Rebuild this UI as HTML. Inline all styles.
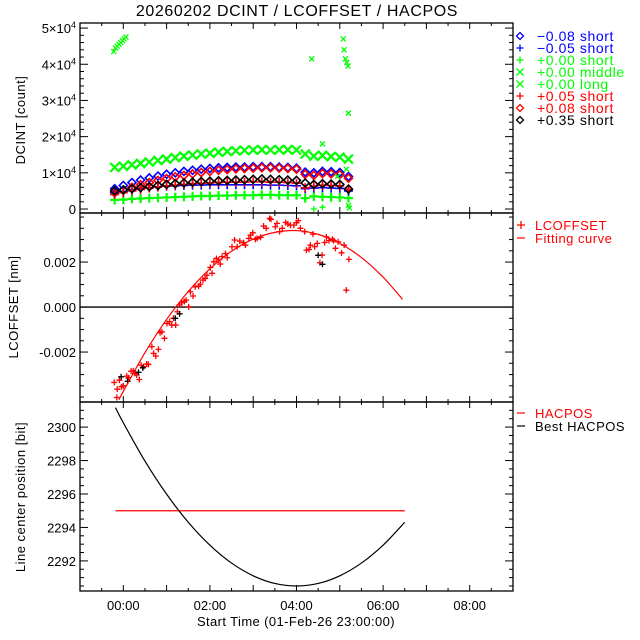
<!DOCTYPE html>
<html><head><meta charset="utf-8"><style>
html,body{margin:0;padding:0;background:#fff;}
svg{display:block;font-family:"Liberation Sans",sans-serif;}
</style></head><body>
<svg id="chart" width="640" height="640" viewBox="0 0 640 640" xmlns="http://www.w3.org/2000/svg">
<rect width="640" height="640" fill="#fff"/>
<text x="297" y="16" font-size="16" letter-spacing="0.6" text-anchor="middle">20260202 DCINT / LCOFFSET / HACPOS</text>
<g id="g"></g>
</svg>
<script>
// ---- data: top panel (DCINT) ----
const topTimes = [-0.2,0,0.2,0.4,0.6,0.8,1.0,1.2,1.4,1.6,1.8,2.0,2.2,2.4,2.6,2.8,3.0,3.2,3.4,3.6,3.8,4.0,4.2,4.4,4.6,4.8,5.0,5.2];
const greenLong = [11500,11800,12200,12600,13000,13400,13800,14200,14600,14900,15200,15400,15700,15900,16100,16200,16300,16400,16300,16400,16400,16300,15200,14600,14800,14500,14300,13800];
const greenShort = [2500,2600,2800,2900,3000,3100,3200,3300,3400,3500,3600,3600,3700,3700,3800,3800,3800,3900,3900,3800,3800,3800,3000,3500,3400,3300,3200,3000];
const blueDiamond = [5600,6500,7300,8000,8600,9100,9600,10000,10400,10700,11000,11200,11400,11500,11600,11600,11700,11700,11700,11600,11500,11300,10200,10000,10400,10300,10100,9000];
const redDiamond = [4500,5200,6000,6700,7300,7900,8400,8900,9300,9700,10100,10400,10700,10900,11100,11200,11300,11400,11400,11300,11200,11000,9600,9300,9800,9700,9500,8500];
const blackDiamond = [5000,5300,5600,5900,6200,6500,6800,7000,7200,7400,7600,7700,7800,7900,8000,8100,8200,8300,8200,8100,8000,7900,7200,6800,7000,6900,6800,5500];
const bluePlus = [4500,4900,5300,5600,5900,6100,6300,6400,6500,6600,6600,6700,6700,6700,6700,6700,6700,6700,6600,6600,6500,6400,5600,5800,5900,5800,5700,5000];
const redPlus = [4000,4500,5000,5400,5800,6100,6400,6600,6800,7000,7100,7200,7300,7400,7400,7400,7500,7500,7400,7400,7300,7100,5900,6300,6600,6500,6400,5500];
const greenMidTimes = [-0.22,-0.18,-0.14,-0.1,-0.06,-0.02,0.02,0.06,4.35,5.08,5.1,5.13,5.16,5.19,5.2,4.6,4.95,5.15,5.2,5.22];
const greenMidVals = [43500,44500,45000,45500,46000,46500,47000,47500,41500,47000,44000,41500,40500,39500,26500,18000,9000,11000,1000,300];
const greenShortOutT = [4.4,4.6];
const greenShortOutV = [0,500];
const topTicks = [0,10000,20000,30000,40000,50000];
const topTickMant = ["0","1","2","3","4","5"];
// ---- data: middle panel (LCOFFSET) ----
const offT = [-0.21,-0.09,-0.15,-0.14,-0.04,0.00,0.08,0.12,0.18,0.23,0.27,0.31,0.37,0.41,0.47,0.54,0.58,0.66,0.70,0.75,0.81,0.85,0.89,0.95,1.01,1.07,1.12,1.16,1.21,1.25,1.30,1.35,1.41,1.45,1.51,1.55,1.61,1.66,1.74,1.78,1.84,1.89,1.93,2.01,2.05,2.09,2.15,2.20,2.24,2.28,2.36,2.40,2.51,2.57,2.63,2.69,2.78,2.82,2.90,2.94,2.99,3.05,3.09,3.17,3.24,3.30,3.38,3.41,3.51,3.55,3.61,3.67,3.75,3.80,3.86,3.94,4.00,4.04,4.09,4.19,4.23,4.29,4.32,4.38,4.42,4.48,4.54,4.59,4.65,4.69,4.75,4.83,4.86,4.90,4.96,5.04,5.10,5.15,5.21];
const offV = [-3.35,-3.25,-4.02,-3.65,-3.54,-3.50,-3.07,-3.14,-2.85,-2.83,-2.95,-3.02,-3.22,-2.58,-2.65,-2.53,-2.55,-1.76,-2.06,-2.18,-1.88,-1.14,-1.10,-1.39,-0.73,-0.65,-0.80,-0.50,-0.80,-0.21,0.09,0.19,0.24,0.31,0.01,0.68,0.49,0.90,0.93,1.02,1.20,1.27,1.42,1.76,1.50,2.01,2.16,2.09,1.91,2.24,2.38,2.19,2.68,2.98,2.68,2.93,2.86,2.75,3.05,3.20,3.30,3.01,3.05,3.10,3.60,3.50,3.94,3.90,3.57,3.72,3.35,3.50,3.76,3.69,3.64,3.64,3.75,3.84,3.50,3.35,2.53,2.56,2.75,3.24,2.68,2.83,1.97,2.31,2.87,3.12,2.95,3.01,2.95,2.61,2.90,2.41,2.75,0.75,2.12];
const offBlackT = [-0.05,0.1,0.35,0.45,1.2,1.3,4.5,4.6];
const offBlackV = [-3.1,-3.3,-2.9,-2.7,-0.5,-0.3,2.3,1.9];
const fitT = [-0.1,0,0.5,1,1.5,2,2.5,3,3.5,4,4.5,5,5.5,6,6.45];
const fitV = [-4.12,-3.75,-2.03,-0.55,0.69,1.70,2.48,3.02,3.32,3.40,3.23,2.83,2.20,1.33,0.34];
const midTicks = [-0.002,0,0.002];
const midTickLabels = ["-0.002","0.000","0.002"];
// ---- data: bottom panel (HACPOS) ----
const bestT = [-0.18,0,0.5,1,1.5,2,2.5,3,3.5,4,4.5,5,5.5,6,6.5];
const bestV = [2301.16,2300.26,2297.97,2295.99,2294.31,2292.94,2291.87,2291.11,2290.65,2290.5,2290.65,2291.11,2291.87,2292.94,2294.31];
const hacT = [-0.18,6.5];
const hacV = [2295,2295];
const botTicks = [2292,2294,2296,2298,2300];
const xTicks = [0,2,4,6,8];
const xTickLabels = ["00:00","02:00","04:00","06:00","08:00"];

const NS="http://www.w3.org/2000/svg";
const G=document.getElementById('g');
const L=80,R=513;
const tMin=-1,tMax=9;
function X(t){return L+(t-tMin)/(tMax-tMin)*(R-L);}
function mk(tag,attrs,parent){const e=document.createElementNS(NS,tag);for(const k in attrs)e.setAttribute(k,attrs[k]);(parent||G).appendChild(e);return e;}
const P1={top:23,bot:213,min:-1100,max:51400};
const P2={top:213,bot:402,min:-0.00422,max:0.00418};
const P3={top:402,bot:591,min:2290.2,max:2301.5};
function Y(p,v){return p.bot-(v-p.min)/(p.max-p.min)*(p.bot-p.top);}

function marker(type,x,y,col,s,w){
  let d;
  if(type==='plus')d=`M${x-s} ${y}H${x+s}M${x} ${y-s}V${y+s}`;
  else if(type==='x')d=`M${x-s} ${y-s}L${x+s} ${y+s}M${x-s} ${y+s}L${x+s} ${y-s}`;
  else d=`M${x} ${y-s}L${x+s} ${y}L${x} ${y+s}L${x-s} ${y}Z`;
  return mk('path',{d:d,stroke:col,'stroke-width':w||1.3,fill:'none'});
}
function frameTicks(p,name,minorStep,majorVals){
  const f=mk('rect',{x:L,y:p.top,width:R-L,height:p.bot-p.top,fill:'none',stroke:'#000','stroke-width':1.3});
  
  
  for(let h=-1;h<=9;h+=0.5){
    const x=X(h);const len=(h%1===0)?6:3;
    mk('line',{x1:x,x2:x,y1:p.bot,y2:p.bot-len,stroke:'#000'});
    mk('line',{x1:x,x2:x,y1:p.top,y2:p.top+len,stroke:'#000'});
  }
  const start=Math.ceil(p.min/minorStep);
  for(let i=start;i*minorStep<=p.max;i++){
    const v=i*minorStep;const y=Y(p,v);
    const major=majorVals.some(m=>Math.abs(m-v)<minorStep*0.01);
    const len=major?8:4;
    mk('line',{x1:L,x2:L+len,y1:y,y2:y,stroke:'#000'});
    mk('line',{x1:R,x2:R-len,y1:y,y2:y,stroke:'#000'});
  }
}
frameTicks(P1,'dcint-panel',2000,topTicks);
frameTicks(P2,'lcoffset-panel',0.0005,midTicks);
frameTicks(P3,'hacpos-panel',0.5,botTicks);

topTicks.forEach((v,i)=>{
  const t=mk('text',{x:76,y:Y(P1,v)+5,'font-size':13,'text-anchor':'end'});
  
  
  if(v===0){t.textContent='0';}
  else{t.textContent=topTickMant[i]+'×10';const s=mk('tspan',{dy:-5,'font-size':9},t);s.textContent='4';}
});
midTicks.forEach((v,i)=>{
  const t=mk('text',{x:76,y:Y(P2,v)+5,'font-size':13,'text-anchor':'end'});
  
  
  t.textContent=midTickLabels[i];
});
botTicks.forEach(v=>{
  const t=mk('text',{x:76,y:Y(P3,v)+5,'font-size':13,'text-anchor':'end'});
  
  
  t.textContent=String(v);
});
xTicks.forEach((v,i)=>{
  const t=mk('text',{x:X(v),y:610,'font-size':13,'text-anchor':'middle'});
  
  
  t.textContent=xTickLabels[i];
});
function ytitle(txt,cx,cy,name){const t=mk('text',{x:cx,y:cy,'font-size':13,'letter-spacing':0.5,'text-anchor':'middle',transform:`rotate(-90 ${cx} ${cy})`});t.textContent=txt;
  
  }
ytitle('DCINT [count]',25,120,'dcint-y-axis-title');
ytitle('LCOFFSET [nm]',18,307,'lcoffset-y-axis-title');
ytitle('Line center position [bit]',25,497,'hacpos-y-axis-title');
const xt=mk('text',{x:296,y:626,'font-size':13,'letter-spacing':0.4,'text-anchor':'middle'});xt.textContent='Start Time (01-Feb-26 23:00:00)';



const GREEN='#00ff00',BLUE='#0000ff',RED='#ff0000';
function series(ts,vs,type,col,s,w,name){
  ts.forEach((t,i)=>{const m=marker(type,X(t),Y(P1,vs[i]),col,s,w);
    
    });
}
series(topTimes,greenLong,'x',GREEN,4.5,2.2,'green-long-point');
series(topTimes,greenShort,'plus',GREEN,4.5,2.2,'green-short-point');
series(topTimes,blueDiamond,'diamond',BLUE,4,1.6,'blue-diamond-point');
series(topTimes,redDiamond,'diamond',RED,4,1.6,'red-diamond-point');
series(topTimes,bluePlus,'plus',BLUE,4.5,1.6,'blue-plus-point');
series(topTimes,redPlus,'plus',RED,4.5,1.6,'red-plus-point');
series(topTimes,blackDiamond,'diamond','#000',4,1.6,'black-diamond-point');
series(greenMidTimes,greenMidVals,'x',GREEN,2.5,1.3,'green-middle-point');
series(greenShortOutT,greenShortOutV,'plus',GREEN,3,1.3,'green-short-outlier');

const zl=mk('line',{x1:L,x2:R,y1:Y(P2,0),y2:Y(P2,0),stroke:'#000','stroke-width':1.3});


offT.forEach((t,i)=>{const m=marker('plus',X(t),Y(P2,offV[i]*1e-3),RED,3);
  
  });
offBlackT.forEach((t,i)=>{const m=marker('plus',X(t),Y(P2,offBlackV[i]*1e-3),'#000',3);
  
  });
function smooth(ts,vs,p,scale){
  const pts=ts.map((t,i)=>[X(t),Y(p,vs[i]*scale)]);
  let d=`M${pts[0][0]} ${pts[0][1]}`;
  for(let i=0;i<pts.length-1;i++){
    const p0=pts[Math.max(0,i-1)],p1=pts[i],p2=pts[i+1],p3=pts[Math.min(pts.length-1,i+2)];
    d+=`C${p1[0]+(p2[0]-p0[0])/6} ${p1[1]+(p2[1]-p0[1])/6} ${p2[0]-(p3[0]-p1[0])/6} ${p2[1]-(p3[1]-p1[1])/6} ${p2[0]} ${p2[1]}`;
  }
  return d;
}
const fit=mk('path',{d:smooth(fitT,fitV,P2,1e-3),stroke:RED,fill:'none','stroke-width':1.2});



const hl=mk('path',{d:`M${X(hacT[0])} ${Y(P3,hacV[0])}L${X(hacT[1])} ${Y(P3,hacV[1])}`,stroke:RED,fill:'none','stroke-width':1.2});


const bl=mk('path',{d:smooth(bestT,bestV,P3,1),stroke:'#000',fill:'none','stroke-width':1.2});



const legItems=[['diamond',BLUE,'\u22120.08 short'],['plus',BLUE,'\u22120.05 short'],['plus',GREEN,'+0.00 short'],['x',GREEN,'+0.00 middle'],['x',GREEN,'+0.00 long'],['plus',RED,'+0.05 short'],['diamond',RED,'+0.08 short'],['diamond','#000','+0.35 short']];
legItems.forEach((it,i)=>{
  const y=36+i*12;
  const m=marker(it[0],520,y,it[1],3.5);
  
  
  const t=mk('text',{x:537,y:y+5,'font-size':14,'letter-spacing':0.6,fill:it[1]});t.textContent=it[2];
  
  
});
function legLine(y,col,txt,sym){
  if(sym==='plus'){const m=marker('plus',521,y,col,4);
    
    }
  else{const m=mk('line',{x1:517,x2:525,y1:y,y2:y,stroke:col,'stroke-width':1.2});
    
    }
  const t=mk('text',{x:535,y:y+5,'font-size':13,'letter-spacing':0.5,fill:col});t.textContent=txt;
  
  
}
legLine(225,RED,'LCOFFSET','plus');
legLine(238,RED,'Fitting curve','line');
legLine(413,RED,'HACPOS','line');
legLine(426,'#000','Best HACPOS','line');
</script>
</body></html>
